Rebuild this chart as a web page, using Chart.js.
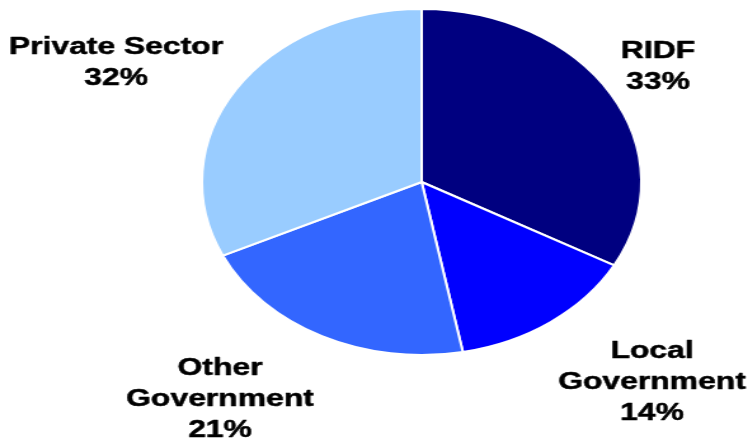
<!DOCTYPE html>
<html>
<head>
<meta charset="utf-8">
<script src="https://cdn.jsdelivr.net/npm/chart.js@4"></script>
<style>
  html, body { margin: 0; padding: 0; background: #fff; overflow: hidden; }
  #wrap { position: absolute; left: 0; top: 0; width: 593px; height: 444px; transform: scaleX(1.27); transform-origin: 0 0; }
</style>
</head>
<body>
<div id="wrap"><canvas id="c"></canvas></div>
<script>
const categories = ["RIDF", "Local Government", "Other Government", "Private Sector"];
const labelLines = [["RIDF"], ["Local", "Government"], ["Other", "Government"], ["Private Sector"]];
const values = [33, 14, 21, 32];

const SX = 1.27;        // horizontal stretch of the whole picture
const TEXT_SX = 1.045;  // extra horizontal widening of the label text
// label anchors (page pixels): centre x, centre y of first line
const labelPos = [[658, 51], [652, 351], [220, 368], [116, 47]];
const LINE_H = 31;

const labelPlugin = {
  id: 'sliceLabels',
  afterDraw(chart) {
    const ctx = chart.ctx;
    ctx.save();
    ctx.font = 'bold 24px "Liberation Sans", Arial, sans-serif';
    ctx.fillStyle = '#000';
    ctx.strokeStyle = '#000';
    ctx.lineWidth = 0.5;
    ctx.lineJoin = 'round';
    ctx.textAlign = 'center';
    ctx.textBaseline = 'middle';
    values.forEach((v, i) => {
      const lines = labelLines[i].concat([v + '%']);
      const [px, py] = labelPos[i];
      lines.forEach((t, k) => {
        ctx.save();
        ctx.translate(px / SX, py + k * LINE_H);
        ctx.scale(TEXT_SX, 1);
        ctx.fillText(t, 0, 0);
        ctx.strokeText(t, 0, 0);
        ctx.restore();
      });
    });
    ctx.restore();
  }
};

new Chart(document.getElementById('c'), {
  type: 'pie',
  data: {
    labels: categories,
    datasets: [{
      data: values,
      backgroundColor: ['#000080', '#0000FF', '#3366FF', '#99CCFF'],
      borderColor: '#FFFFFF',
      borderWidth: 2
    }]
  },
  options: {
    responsive: true,
    maintainAspectRatio: false,
    animation: false,
    layout: { padding: { left: 158, top: 8, right: 87, bottom: 88 } },
    plugins: { legend: { display: false }, tooltip: { enabled: false } }
  },
  plugins: [labelPlugin]
});
</script>
</body>
</html>
